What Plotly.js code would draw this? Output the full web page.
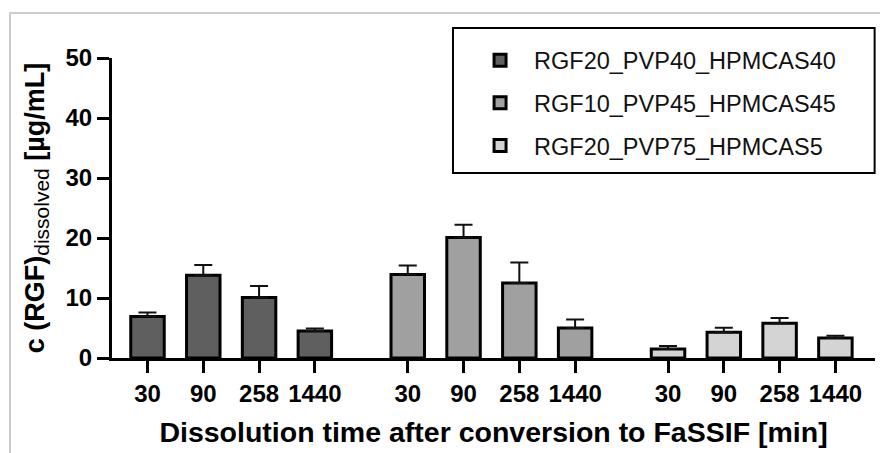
<!DOCTYPE html>
<html>
<head>
<meta charset="utf-8">
<script src="https://cdn.plot.ly/plotly-3.0.1.min.js"></script>
<style>
  html, body { margin: 0; padding: 0; background: #ffffff; }
  #frame { position: absolute; left: 9px; top: 12px; width: 871px; height: 441px;
           border-left: 2px solid #cccccc; border-top: 2px solid #cccccc; box-sizing: border-box; }
  #chart { position: absolute; left: 0; top: 0; width: 880px; height: 453px; }
</style>
</head>
<body>
<div id="frame"></div>
<div id="chart"></div>
<script>
// ---- data ----
const formulations = ['RGF20_PVP40_HPMCAS40', 'RGF10_PVP45_HPMCAS45', 'RGF20_PVP75_HPMCAS5'];
const timeLabels = ['30', '90', '258', '1440'];
const meanRGF20_PVP40 = [6.9, 13.8, 10.1, 4.5];
const errRGF20_PVP40  = [0.7, 1.7, 1.9, 0.4];
const meanRGF10_PVP45 = [13.9, 20.1, 12.5, 5.0];
const errRGF10_PVP45  = [1.5, 2.1, 3.4, 1.4];
const meanRGF20_PVP75 = [1.5, 4.3, 5.8, 3.35];
const errRGF20_PVP75  = [0.5, 0.75, 0.85, 0.35];
const yTicks = [0, 10, 20, 30, 40, 50];

// ---- styling / layout ----
const means = [meanRGF20_PVP40, meanRGF10_PVP45, meanRGF20_PVP75];
const errs = [errRGF20_PVP40, errRGF10_PVP45, errRGF20_PVP75];
const fills = ['#5f5f5f', '#a0a0a0', '#d4d4d4'];
const GROUP_GAP = 0.665;
const step = timeLabels.length + GROUP_GAP;
const FONT = 'Liberation Sans, Arial, sans-serif';

const traces = formulations.map((name, g) => {
  const xs = timeLabels.map((t, i) => g * step + i);
  return {
    type: 'bar',
    name: name,
    legendgroup: 'g' + g,
    x: xs,
    y: means[g],
    width: 0.6,
    marker: { color: fills[g], line: { color: '#000000', width: 3 } },
    error_y: {
      type: 'data', symmetric: false,
      array: errs[g], arrayminus: errs[g].map(() => 0),
      color: '#111111', thickness: 2, width: 9
    },
    hoverinfo: 'x+y'
  };
});

const tickvals = [];
const ticktext = [];
formulations.forEach((f, g) => timeLabels.forEach((t, i) => { tickvals.push(g * step + i); ticktext.push(t); }));

const layout = {
  width: 880, height: 453,
  margin: { l: 112, r: 5, t: 58, b: 95 },
  paper_bgcolor: 'rgba(0,0,0,0)',
  plot_bgcolor: 'rgba(0,0,0,0)',
  barmode: 'overlay',
  showlegend: true,
  font: { family: FONT, color: '#000000' },
  xaxis: {
    range: [-0.636, 13.04],
    tickvals: tickvals, ticktext: ticktext,
    showline: true, linecolor: '#000000', linewidth: 3,
    ticks: 'outside', ticklen: 12, tickwidth: 3, tickcolor: '#000000',
    showgrid: false, zeroline: false,
    tickfont: { family: FONT, size: 24, weight: 'bold', color: '#000000' },
    title: { text: 'Dissolution time after conversion to FaSSIF [min]',
             font: { family: FONT, size: 28.5, weight: 'bold', color: '#000000' }, standoff: 17 }
  },
  yaxis: {
    range: [0, 50],
    tickvals: yTicks,
    showline: true, linecolor: '#000000', linewidth: 3,
    ticks: 'outside', ticklen: 12, tickwidth: 3, tickcolor: '#000000',
    showgrid: false, zeroline: false,
    tickfont: { family: FONT, size: 24, weight: 'bold', color: '#000000' },
    title: { text: 'c (RGF)<sub><span style="font-size:21px;font-weight:normal">dissolved</span></sub> [µg/mL]',
             font: { family: FONT, size: 27, weight: 'bold', color: '#000000' }, standoff: 14 }
  },
  legend: {
    x: 0.447, y: 1.065, xanchor: 'left', yanchor: 'top',
    bgcolor: 'rgba(0,0,0,0)', borderwidth: 0,
    font: { family: FONT, size: 23.5, color: '#111111' },
    tracegroupgap: 9, indentation: 13, itemwidth: 58,
    traceorder: 'grouped'
  },
  shapes: [{
    type: 'rect', xref: 'paper', yref: 'paper',
    x0: 0.4469, x1: 0.9995, y0: 0.6167, y1: 1.1,
    line: { color: '#000000', width: 2 }, fillcolor: 'rgba(0,0,0,0)', layer: 'above'
  }]
};

Plotly.newPlot('chart', traces, layout, { displayModeBar: false, staticPlot: true });
</script>
</body>
</html>
